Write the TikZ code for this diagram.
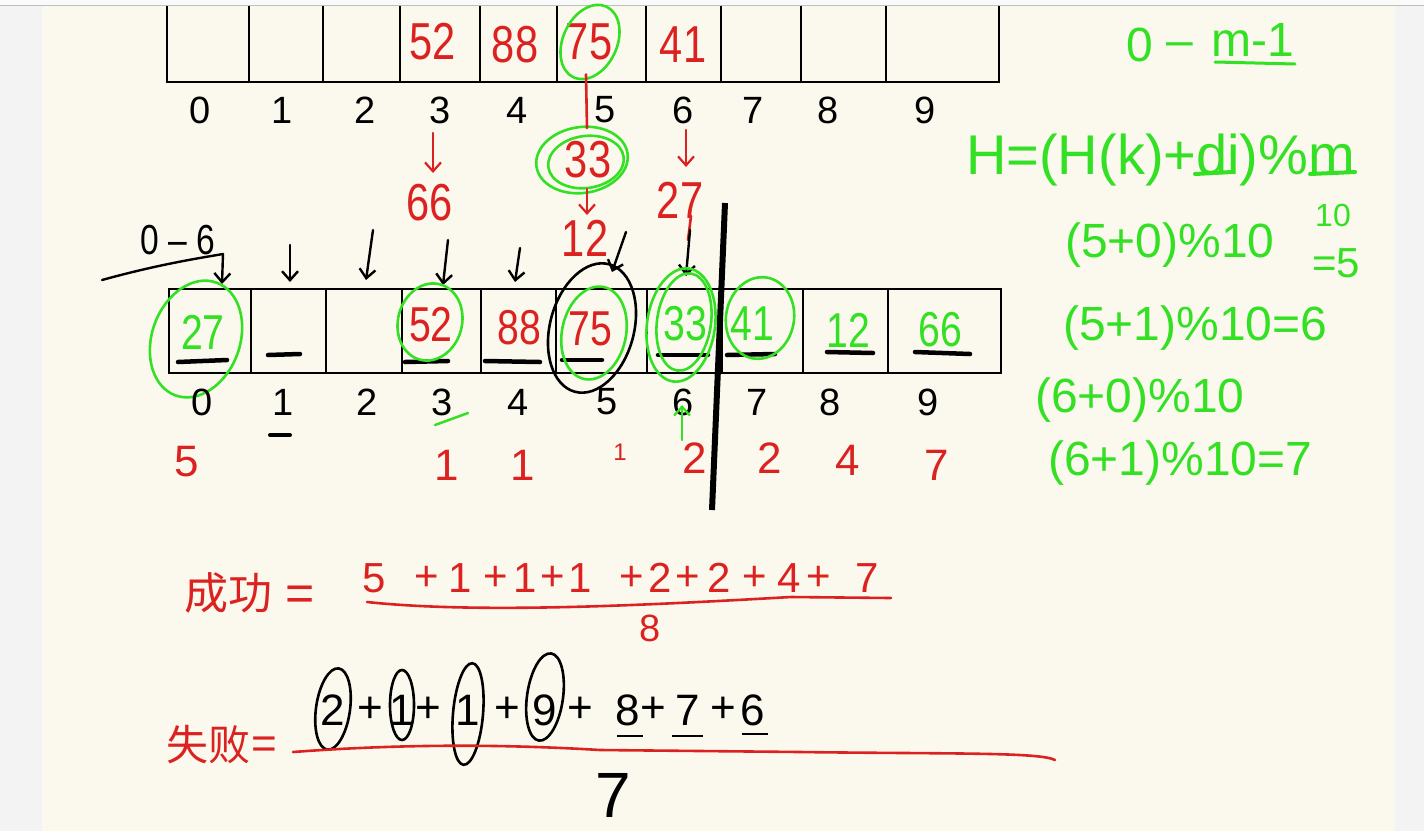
\documentclass[tikz,border=0pt]{standalone}
\usepackage{fontspec}
\setmainfont{Liberation Sans}
\newfontfamily\cjk{Noto Sans CJK SC}
\usetikzlibrary{arrows.meta}
\definecolor{hred}{RGB}{220,34,32}
\definecolor{hgreen}{RGB}{52,224,36}
\definecolor{paper}{RGB}{251,249,238}
\definecolor{outerbg}{RGB}{243,243,243}
\definecolor{topbg}{RGB}{250,250,250}
\newcommand\narrow[1]{\scalebox{0.8}[1]{#1}}
\tikzset{
  cell/.style={draw=black, line width=2.6pt, anchor=south west, inner sep=0pt, outer sep=0pt},
  idx/.style={font=\fontsize{38}{38}\selectfont, text=black, inner sep=0pt},
  val/.style={font=\fontsize{52}{52}\selectfont, inner sep=0pt},
  bval/.style={font=\fontsize{49}{49}\selectfont, inner sep=0pt},
  cnt/.style={font=\fontsize{44}{44}\selectfont, text=hred, inner sep=0pt},
  snum/.style={font=\fontsize{42}{42}\selectfont, text=hred, inner sep=0pt},
  gtxt/.style={font=\fontsize{48}{48}\selectfont, text=hgreen, inner sep=0pt},
  ftxt/.style={font=\fontsize{44}{44}\selectfont, inner sep=0pt},
  tipx/.style={-{Straight Barb[length=9pt,width=16pt]}},
  barr/.style={draw=black, line width=2.4pt, tipx, line cap=round},
  rarr/.style={draw=hred, line width=2.2pt, tipx, line cap=round},
  garr/.style={draw=hgreen, line width=2.2pt, tipx, line cap=round},
  gel/.style={draw=hgreen, line width=2.6pt},
  bel/.style={draw=black, line width=2.6pt},
  uline/.style={draw=black, line width=4.5pt, line cap=round},
  gline/.style={draw=hgreen, line width=3pt, line cap=round},
  rline/.style={draw=hred, line width=2.6pt, line cap=round},
}
\begin{document}
\begin{tikzpicture}[x=1pt,y=-1pt]
\useasboundingbox (0,0) rectangle (1424,831);
\fill[outerbg] (0,0) rectangle (1424,831);
\fill[paper] (42,5) rectangle (1395,831);
% ---------- top array ----------
\node[cell, minimum width=82pt,  minimum height=96pt] (t0) at (167,82) {};
\node[cell, minimum width=74pt,  minimum height=96pt] (t1) at (249,82) {};
\node[cell, minimum width=77pt,  minimum height=96pt] (t2) at (323,82) {};
\node[cell, minimum width=80pt,  minimum height=96pt] (t3) at (400,82) {};
\node[cell, minimum width=77pt,  minimum height=96pt] (t4) at (480,82) {};
\node[cell, minimum width=89pt,  minimum height=96pt] (t5) at (557,82) {};
\node[cell, minimum width=75pt,  minimum height=96pt] (t6) at (646,82) {};
\node[cell, minimum width=80pt,  minimum height=96pt] (t7) at (721,82) {};
\node[cell, minimum width=85pt,  minimum height=96pt] (t8) at (801,82) {};
\node[cell, minimum width=113pt, minimum height=96pt] (t9) at (886,82) {};
\fill[topbg] (0,0) rectangle (1424,5);
\draw[black!25, line width=1pt] (0,5) -- (1424,5);
\node[val, text=hred] (tv3) at (433,42) {\narrow{52}};
\node[val, text=hred] (tv4) at (515,45) {\narrow{88}};
\node[val, text=hred] (tv5) at (589,42) {\narrow{75}};
\node[val, text=hred] (tv6) at (683,45) {\narrow{41}};
\draw[gel, rotate around={-25:(590,42)}] (590,42) ellipse (27 and 39);
\foreach \i/\x in {0/200,1/282,2/365,3/440,4/517,5/605,6/683,7/753,8/828,9/925}
  \node[idx] (ti\i) at (\x,110) {\i};
% ---------- collisions chain ----------
\node[val, text=hred] (n33) at (588,160) {\narrow{33}};
\draw[gel, rotate around={8:(582,160)}] (582,160) ellipse (46 and 33);
\draw[gel, rotate around={8:(586,162)}] (586,162) ellipse (38 and 26);
\draw[rline] (tv5.south) ++(-3,14) coordinate (l75) -- (587,128) coordinate (l33);
\node[val, text=hred] (n12) at (585,238) {\narrow{12}};
\coordinate (a33s) at (587,189); \coordinate (a33e) at (587,215);
\draw[rarr] (a33s) -- (a33e);
\coordinate (a3s) at (433,133); \coordinate (a3e) at (433,173);
\draw[rarr] (a3s) -- (a3e);
\node[val, text=hred] (n66) at (430,203) {\narrow{66}};
\coordinate (a6s) at (686,130); \coordinate (a6e) at (686,167);
\draw[rarr] (a6s) -- (a6e);
\node[val, text=hred] (n27) at (680,200) {\narrow{27}};
\draw[rline] (691,216) -- (688,240);
% ---------- 0-6 and arrows ----------
\node[idx, font=\fontsize{42}{42}\selectfont] (r06) at (178,240) {\narrow{0 -- 6}};
\coordinate (c06a) at (102,280); \coordinate (c06b) at (223,254);
\draw[black, line width=2.4pt, line cap=round] (c06a) .. controls (160,264) and (200,258) .. (c06b);
% ---------- bottom array ----------
\node[cell, minimum width=82pt,  minimum height=84pt] (b0) at (169,373) {};
\node[cell, minimum width=75pt,  minimum height=84pt] (b1) at (251,373) {};
\node[cell, minimum width=76pt,  minimum height=84pt] (b2) at (326,373) {};
\node[cell, minimum width=79pt,  minimum height=84pt] (b3) at (402,373) {};
\node[cell, minimum width=75pt,  minimum height=84pt] (b4) at (481,373) {};
\node[cell, minimum width=91pt,  minimum height=84pt] (b5) at (556,373) {};
\node[cell, minimum width=75pt,  minimum height=84pt] (b6) at (647,373) {};
\node[cell, minimum width=81pt,  minimum height=84pt] (b7) at (722,373) {};
\node[cell, minimum width=85pt,  minimum height=84pt] (b8) at (803,373) {};
\node[cell, minimum width=113pt, minimum height=84pt] (b9) at (888,373) {};
\draw[barr] (c06b) -- (222,284) coordinate (e0);
\coordinate (s1) at (290,245); \coordinate (e1) at (290,282); \draw[barr] (s1) -- (e1);
\coordinate (s2) at (373,230); \coordinate (e2) at (366,280); \draw[barr] (s2) -- (e2);
\coordinate (s3) at (448,240); \coordinate (e3) at (443,285); \draw[barr] (s3) -- (e3);
\coordinate (s4) at (520,248); \coordinate (e4) at (515,282); \draw[barr] (s4) -- (e4);
\coordinate (s5) at (626,232); \coordinate (e5) at (612,272); \draw[barr] (s5) -- (e5);
\coordinate (s6) at (690,230); \coordinate (e6) at (686,276); \draw[barr] (s6) -- (e6);
% values
\node[bval, text=hgreen] (bv0) at (203,332) {\narrow{27}};
\node[bval, text=hred]   (bv3) at (431,325) {\narrow{52}};
\node[bval, text=hred]   (bv4) at (519,328) {\narrow{88}};
\node[bval, text=hred]   (bv5) at (590,329) {\narrow{75}};
\node[bval, text=hgreen] (bv6) at (685,324) {\narrow{33}};
\node[bval, text=hgreen] (bv7) at (752,324) {\narrow{41}};
\node[bval, text=hgreen] (bv8) at (848,330) {\narrow{12}};
\node[bval, text=hgreen] (bv9) at (940,330) {\narrow{66}};
% underlines
\draw[uline] (178,362) -- (227,360);
\draw[uline] (268,355) -- (300,354);
\draw[uline] (405,362) -- (448,361);
\draw[uline] (485,361) -- (540,362);
\draw[uline] (562,360) -- (602,360);
\draw[uline] (658,355) -- (708,355);
\draw[uline] (727,355) -- (775,354);
\draw[uline] (827,352) -- (873,353);
\draw[uline] (915,352) -- (970,354);
% ellipses
\draw[gel, rotate around={-20:(196,339)}] (196,339) ellipse (44 and 60);
\draw[gel, rotate around={-15:(430,322)}] (430,322) ellipse (32 and 39);
\draw[bel, rotate around={-15:(592,328)}] (592,328) ellipse (42 and 66);
\draw[gel, rotate around={-12:(594,333)}] (594,333) ellipse (32 and 47);
\draw[gel, rotate around={-8:(681,325)}] (681,325) ellipse (34 and 57);
\draw[gel, rotate around={-8:(684,322)}] (684,322) ellipse (27 and 49);
\draw[gel, rotate around={-10:(760,318)}] (760,318) ellipse (34 and 41);
% bottom indices
\foreach \i/\x in {0/202,1/283,2/367,3/442,4/518,5/607,6/683,7/757,8/830,9/928}
  \node[idx] (bi\i) at (\x,402) {\i};
\draw[uline, line width=4pt] (270,435) -- (290,435);
\draw[gline, line width=2.5pt] (435,425) -- (468,413);
\coordinate (gu1) at (682,440); \coordinate (gu2) at (682,405);
\draw[garr] (gu1) -- (gu2);
\draw[black, line width=6pt] (725,203) -- (712,510);
% counts
\node[cnt] (k0) at (187,462) {5};
\node[cnt] (k3) at (447,465) {1};
\node[cnt] (k4) at (523,465) {1};
\node[cnt, font=\fontsize{24}{24}\selectfont] (k5) at (620,452) {1};
\node[cnt] (k6) at (695,458) {2};
\node[cnt] (k7) at (770,458) {2};
\node[cnt] (k8) at (848,460) {4};
\node[cnt] (k9) at (937,465) {7};
% ---------- green formulas ----------
\node[gtxt, font=\fontsize{48}{48}\selectfont] (g0) at (1140,45) {0};
\node[gtxt, font=\fontsize{48}{48}\selectfont] (gd) at (1180,50) {--};
\node[gtxt, font=\fontsize{48}{48}\selectfont] (gm) at (1253,40) {m-1};
\draw[gline] (1215,62) -- (1295,64);
\node[gtxt, font=\fontsize{56}{56}\selectfont, anchor=west] (gH) at (966,160) {H=(H(k)+di)\%m};
\draw[gline, line width=4pt] (1195,174) -- (1232,172);
\draw[gline, line width=4pt] (1310,174) -- (1355,172);
\node[gtxt, anchor=west] (g1) at (1065,245) {(5+0)\%10};
\node[gtxt, font=\fontsize{32}{32}\selectfont] (g1b) at (1333,215) {10};
\node[gtxt, font=\fontsize{42}{42}\selectfont] (g1c) at (1336,263) {=5};
\node[gtxt, anchor=west] (g2) at (1063,328) {(5+1)\%10=6};
\node[gtxt, anchor=west] (g3) at (1035,400) {(6+0)\%10};
\node[gtxt, anchor=west] (g4) at (1048,463) {(6+1)\%10=7};
% ---------- success ----------
\node[font=\cjk\fontsize{44}{44}\selectfont, text=hred, inner sep=0pt] (succ) at (228,593) {成功};
\node[cnt, font=\fontsize{50}{50}\selectfont] (seq) at (300,598) {=};
\foreach \t/\x in {5/374,+/427,1/460,+/496,1/525,+/553,1/580,+/632,2/660,+/688,2/719,+/755,4/789,+/819,7/867}
  \node[snum] (sn\x) at (\x,578) {\t};
\draw[rline] (367,602) .. controls (480,614) and (650,605) .. (791,597) -- (891,598);
\node[cnt, font=\fontsize{38}{38}\selectfont] (sden) at (650,628) {8};
% ---------- failure ----------
\node[font=\cjk\fontsize{42}{42}\selectfont, text=hred, inner sep=0pt] (fail) at (208,745) {失败};
\node[cnt, font=\fontsize{44}{44}\selectfont] (feq) at (264,748) {=};
\foreach \t/\x in {2/333,+/370,1/402,+/428,1/468,+/507,9/545,+/580,8/628,+/653,7/688,+/723,6/753}
  \node[ftxt, text=black] (fn\x) at (\x,710) {\t};
\draw[bel, rotate around={-8:(333,709)}] (333,709) ellipse (17 and 41);
\draw[bel] (402,705) ellipse (12 and 35);
\draw[bel, rotate around={-5:(468,714)}] (468,714) ellipse (15 and 51);
\draw[bel, rotate around={-8:(545,697)}] (545,697) ellipse (18 and 44);
\draw[black, line width=2.5pt] (617,736) -- (643,736);
\draw[black, line width=2.5pt] (672,736) -- (703,736);
\draw[black, line width=2.5pt] (742,734) -- (768,734);
\draw[rline] (293,752) .. controls (400,744) and (500,744) .. (600,750) -- (800,752) .. controls (950,754) and (1040,752) .. (1055,760);
\node[ftxt, font=\fontsize{64}{64}\selectfont, text=black] (fden) at (613,795) {7};
\end{tikzpicture}
\end{document}
